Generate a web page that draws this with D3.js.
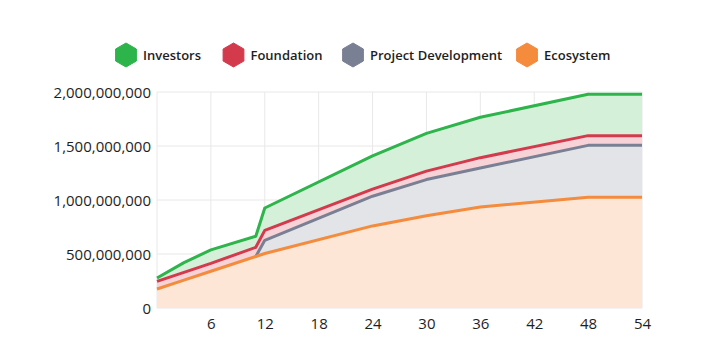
<!DOCTYPE html>
<html>
<head>
<meta charset="utf-8">
<script src="https://cdn.jsdelivr.net/npm/d3@7/dist/d3.min.js"></script>
<style>
  html, body { margin: 0; padding: 0; background: #fff; }
  svg { display: block; font-family: "Open Sans", "Noto Sans", sans-serif; }
</style>
</head>
<body>
<svg id="chart" width="720" height="355"></svg>
<script>
// ---- data ----
const months = [0, 3, 6, 11, 12, 24, 30, 36, 48, 54];
const ecosystem = [176e6, 258e6, 340e6, 477e6, 505e6, 760e6, 855e6, 935e6, 1025e6, 1025e6];
const projectDevelopment = [0, 0, 0, 0, 122e6, 275e6, 334e6, 361e6, 481e6, 481e6];
const foundation = [71e6, 72e6, 73e6, 85e6, 92e6, 65e6, 78e6, 96e6, 90e6, 90e6];
const investors = [31e6, 90e6, 125e6, 102e6, 207e6, 308e6, 350e6, 374e6, 383e6, 383e6];
const seriesNames = ["Investors", "Foundation", "Project Development", "Ecosystem"];
const xTicks = [6, 12, 18, 24, 30, 36, 42, 48, 54];
const yTicks = [0, 500e6, 1000e6, 1500e6, 2000e6];

const lineColors = { "Investors": "#2db44b", "Foundation": "#d33a4c", "Project Development": "#7a8093", "Ecosystem": "#f48b3d" };
const fillColors = { "Investors": "#d5f0d9", "Foundation": "#f7d3d8", "Project Development": "#e3e4e8", "Ecosystem": "#fde6d6" };

const rows = months.map((m, i) => ({
  month: m,
  "Ecosystem": ecosystem[i],
  "Project Development": projectDevelopment[i],
  "Foundation": foundation[i],
  "Investors": investors[i]
}));

const svg = d3.select("#chart");
const margin = { left: 157, right: 78, top: 92, bottom: 47 };
const W = 720, H = 355;
const x = d3.scaleLinear().domain([0, 54]).range([margin.left, W - margin.right]);
const y = d3.scaleLinear().domain([0, 2e9]).range([H - margin.bottom, margin.top]);

// grid
const g = svg.append("g");
g.selectAll(".hg").data(yTicks).join("line")
  .attr("x1", x(0)).attr("x2", x(54))
  .attr("y1", d => y(d)).attr("y2", d => y(d))
  .attr("stroke", "#e8e8e8").attr("stroke-width", 1);
g.selectAll(".vg").data([0].concat(xTicks)).join("line")
  .attr("x1", d => x(d)).attr("x2", d => x(d))
  .attr("y1", y(0)).attr("y2", y(2e9))
  .attr("stroke", "#e8e8e8").attr("stroke-width", 1);

// stack (bottom to top)
const stackOrder = ["Ecosystem", "Project Development", "Foundation", "Investors"];
const stacked = d3.stack().keys(stackOrder)(rows);

const area = d3.area()
  .x(d => x(d.data.month))
  .y0(d => y(d[0]))
  .y1(d => y(d[1]));

svg.append("g").selectAll("path").data(stacked).join("path")
  .attr("d", area)
  .attr("fill", d => fillColors[d.key]);

const line = d3.line()
  .defined(d => d.key !== "Project Development" || d.data.month >= 11)
  .x(d => x(d.data.month))
  .y(d => y(d[1]));

const lineOrder = ["Project Development", "Ecosystem", "Foundation", "Investors"];
svg.append("g").selectAll("path").data(lineOrder.map(k => stacked.find(s => s.key === k))).join("path")
  .attr("d", s => line(s.map(d => Object.assign(d, { key: s.key }))))
  .attr("fill", "none")
  .attr("stroke", s => lineColors[s.key])
  .attr("stroke-width", 3)
  .attr("stroke-linejoin", "round");

// axes
const yAxis = d3.axisLeft(y).tickValues(yTicks).tickSize(0).tickPadding(6)
  .tickFormat(d3.format(","));
const ya = svg.append("g").attr("transform", `translate(${x(0)},0)`).call(yAxis);
ya.select(".domain").remove();
ya.selectAll("text").attr("font-size", 15).attr("fill", "#1e1e1e")
  .attr("font-family", '"Open Sans", sans-serif').attr("dy", "0.35em");

const xAxis = d3.axisBottom(x).tickValues(xTicks).tickSize(0).tickPadding(10);
const xa = svg.append("g").attr("transform", `translate(0,${y(0)})`).call(xAxis);
xa.select(".domain").remove();
xa.selectAll("text").attr("font-size", 15).attr("fill", "#1e1e1e")
  .attr("font-family", '"Open Sans", sans-serif');

// legend
const legendX = [126, 233.5, 353, 527];
const hex = r => d3.range(6).map(i => {
  const a = Math.PI / 3 * i - Math.PI / 2;
  return [r * Math.cos(a), r * Math.sin(a)];
});
const leg = svg.append("g");
seriesNames.forEach((name, i) => {
  const gi = leg.append("g").attr("transform", `translate(${legendX[i]},55)`);
  gi.append("polygon")
    .attr("points", hex(12).map(p => p.join(",")).join(" "))
    .attr("fill", lineColors[name])
    .attr("stroke", lineColors[name]).attr("stroke-width", 1).attr("stroke-linejoin", "round");
  gi.append("text").attr("x", 17).attr("y", 0).attr("dy", "0.35em")
    .attr("font-size", 13).attr("font-weight", 600).attr("fill", "#1e1e1e")
    .text(name);
});
</script>
</body>
</html>
